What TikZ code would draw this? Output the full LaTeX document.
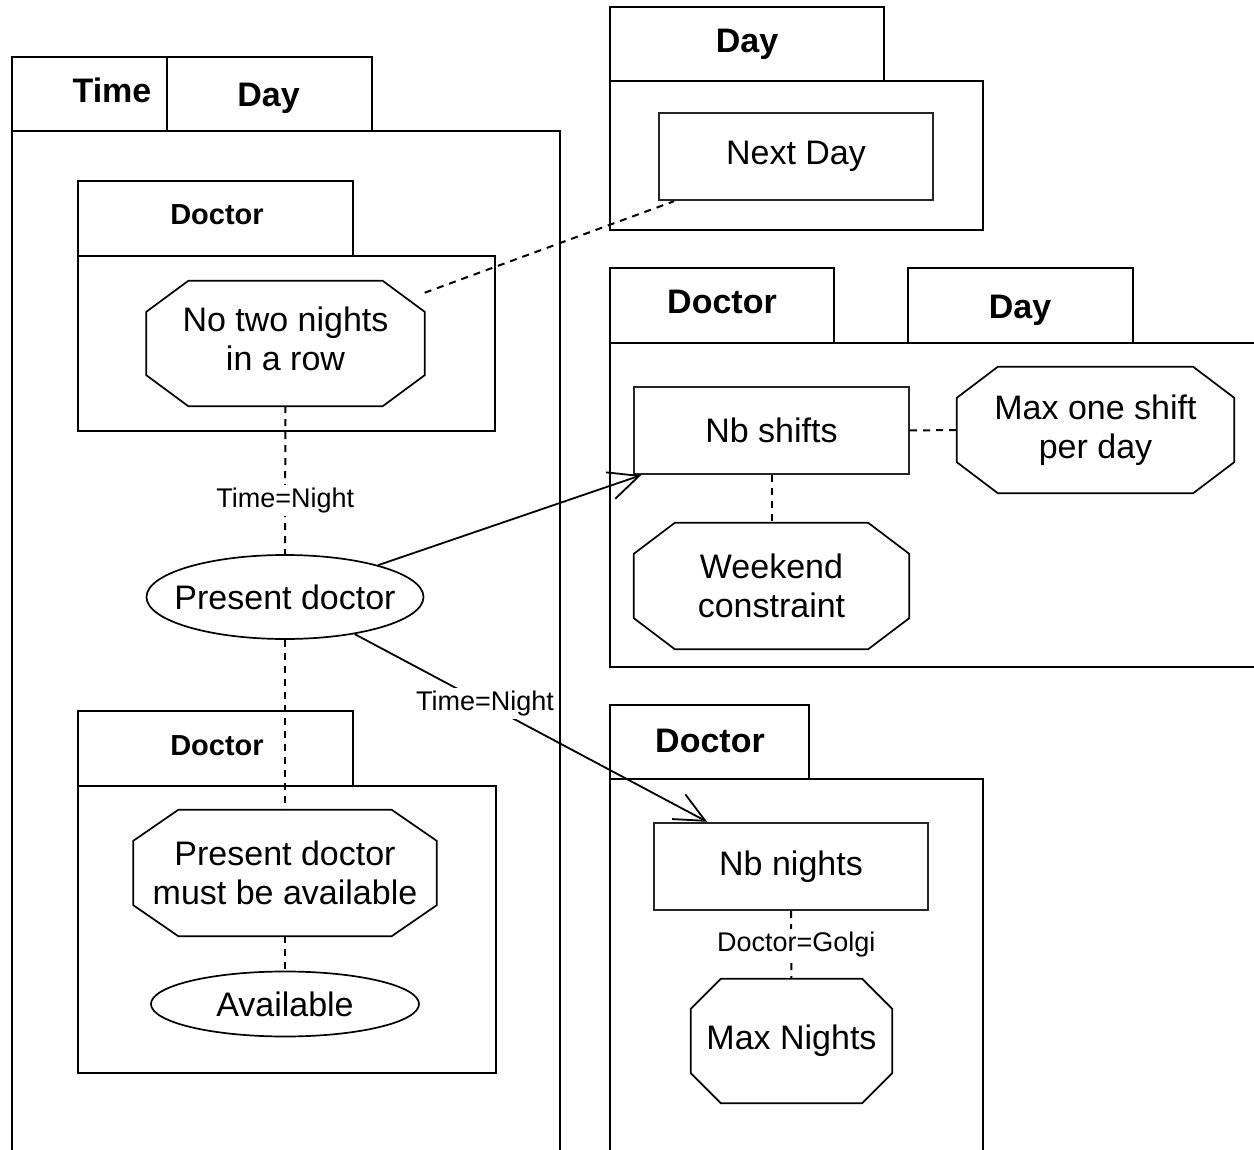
\documentclass[tikz,border=0pt]{standalone}
\usepackage{fontspec}
\setmainfont{Liberation Sans}
\usetikzlibrary{shapes.geometric,arrows.meta,calc}
\newcommand\mainfs{\fontsize{34}{39}\selectfont}
\newcommand\tabfs{\bfseries\fontsize{34}{39}\selectfont}
\newcommand\smalltabfs{\bfseries\fontsize{29}{34}\selectfont}
\newcommand\edgefs{\fontsize{27}{31}\selectfont}
\newcommand\drawocta[3]{%
  \draw[octline] ($(#1.north west)+(#2,0)$) -- ($(#1.north east)+(-#2,0)$)
    -- ($(#1.north east)+(0,#3)$) -- ($(#1.south east)+(0,-#3)$)
    -- ($(#1.south east)+(-#2,0)$) -- ($(#1.south west)+(#2,0)$)
    -- ($(#1.south west)+(0,-#3)$) -- ($(#1.north west)+(0,#3)$) -- cycle;}
\begin{document}
\begin{tikzpicture}[x=1pt,y=-1pt,
  frameline/.style={line width=2pt, line join=miter},
  rectnode/.style={draw, line width=2.4pt, draw=black!85, inner sep=0pt, font=\mainfs, align=center},
  octnode/.style={inner sep=0pt, font=\mainfs, align=center},
  octline/.style={line width=1.7pt, line join=miter},
  ellnode/.style={draw, ellipse, line width=1.7pt, inner sep=0pt, font=\mainfs},
  tablabel/.style={anchor=base, font=\tabfs, inner sep=0pt},
  smalltab/.style={anchor=base, font=\smalltabfs, inner sep=0pt},
  elabel/.style={fill=white, font=\edgefs, inner sep=3pt},
  dashline/.style={line width=2pt, dash pattern=on 7pt off 6pt},
  arrline/.style={line width=1.8pt, -{Straight Barb[length=30pt,width=28pt,line width=1.8pt]}}
]
\useasboundingbox (0,0) rectangle (1254,1150);
\clip (0,0) rectangle (1254,1150);
\fill[white] (0,0) rectangle (1254,1150);

% ---------- frames ----------
% left big frame with Time / Day tabs
\draw[frameline] (12,131) rectangle (167,57);
\draw[frameline] (167,131) rectangle (372,57);
\draw[frameline] (12,1170) -- (12,131) -- (560,131) -- (560,1170);
\node[tablabel] (ttime) at (112,103) {Time};
\node[tablabel] (tday1) at (268.5,107) {Day};

% inner Doctor frame 1
\draw[frameline] (78,256) rectangle (353,181);
\draw[frameline] (78,256) rectangle (495,431);
\node[smalltab] (tdoc1) at (217,224.5) {Doctor};

% inner Doctor frame 2
\draw[frameline] (78,786) rectangle (353,711);
\draw[frameline] (78,786) rectangle (496,1073);
\node[smalltab] (tdoc2) at (217,755.5) {Doctor};

% top right Day frame
\draw[frameline] (610,81) rectangle (884,7);
\draw[frameline] (610,81) rectangle (983,230);
\node[tablabel] (tday2) at (747,53) {Day};

% Doctor / Day frame
\draw[frameline] (610,343) rectangle (834,268);
\draw[frameline] (908,343) rectangle (1133,268);
\draw[frameline] (1270,343) -- (610,343) -- (610,667) -- (1270,667);
\node[tablabel] (tdoc3) at (722,314) {Doctor};
\node[tablabel] (tday3) at (1020,319) {Day};

% bottom right Doctor frame
\draw[frameline] (610,779) rectangle (809,705);
\draw[frameline] (610,1170) -- (610,779) -- (983,779) -- (983,1170);
\node[tablabel] (tdoc4) at (710,752) {Doctor};

% ---------- nodes ----------
\node[octnode, minimum width=278pt, minimum height=125pt] (notwo) at (285.5,343.5) {};
\node[octnode] (notwotxt) at (285.5,339) {No two nights\\in a row};
\drawocta{notwo}{42}{31}

\node[ellnode, minimum width=277pt, minimum height=84pt] (pd) at (285,597) {\makebox[0pt]{Present doctor}};

\node[octnode, minimum width=303pt, minimum height=126pt] (pdmust) at (285,873) {Present doctor\\must be available};
\drawocta{pdmust}{45}{31}

\node[ellnode, minimum width=268pt, minimum height=65pt] (avail) at (285,1004) {\makebox[0pt]{Available}};

\node[rectnode, minimum width=274pt, minimum height=87pt] (nextday) at (796,156.5) {Next Day};

\node[rectnode, minimum width=275pt, minimum height=87pt] (nbshifts) at (771.5,430.5) {Nb shifts};

\node[octnode, minimum width=277pt, minimum height=126pt] (maxone) at (1095.5,430) {Max one shift\\per day};
\drawocta{maxone}{41}{31}

\node[octnode, minimum width=275pt, minimum height=126pt] (weekend) at (771.5,586) {Weekend\\constraint};
\drawocta{weekend}{41}{31}

\node[rectnode, minimum width=274pt, minimum height=87pt] (nbnights) at (791,866.5) {Nb nights};

\node[octnode, minimum width=201pt, minimum height=124pt] (maxnights) at (791.5,1041) {Max Nights};
\drawocta{maxnights}{30}{30}

% ---------- connectors ----------
\draw[dashline] (notwo) -- (nextday);
\draw[dashline] (notwo) -- node[elabel, pos=0.64] {Time=Night} (pd);
\draw[dashline] (pd) -- (pdmust);
\draw[dashline] (pdmust) -- (avail);
\draw[dashline] (nbshifts) -- (maxone);
\draw[dashline] (nbshifts) -- (weekend);
\draw[dashline] (nbnights) -- node[elabel, pos=0.49, xshift=5pt] {Doctor=Golgi} (maxnights);
\draw[arrline] (pd) -- (nbshifts);
\draw[arrline] (pd) -- node[elabel, pos=0.37] {Time=Night} (nbnights);
\end{tikzpicture}
\end{document}
